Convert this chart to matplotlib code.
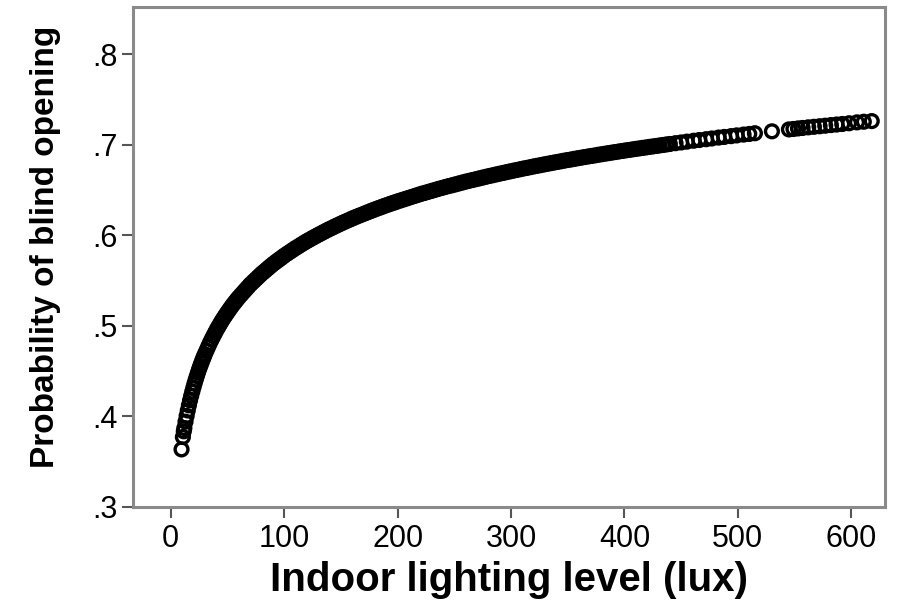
import matplotlib
matplotlib.use("Agg")
import matplotlib.pyplot as plt

# indoor lighting level (lux) and predicted probability of blind opening
lux = [
    9.5, 10.7, 11.5, 12, 13, 14, 15, 16, 17, 18, 19, 20, 21, 22, 23, 24, 25, 26, 27, 28, 29, 30,
    31.5, 33, 34.5, 36, 37.5, 39, 40.5, 42, 43.5, 45, 46.5, 48, 49.5, 51, 52.5, 54, 55.5, 57, 58.5, 60,
    62, 64, 66, 68, 70, 72, 74, 76, 78, 80, 82, 84, 86, 88, 90, 92, 94, 96, 98, 100,
    102.5, 105, 107.5, 110, 112.5, 115, 117.5, 120, 122.5, 125, 127.5, 130, 132.5, 135, 137.5, 140,
    142.5, 145, 147.5, 150, 152.5, 155, 157.5, 160, 162.5, 165, 167.5, 170, 172.5, 175, 177.5, 180,
    182.5, 185, 187.5, 190, 192.5, 195, 197.5, 200,
    203, 206, 209, 212, 215, 218, 221, 224, 227, 230, 233, 236, 239, 242, 245, 248, 251, 254, 257, 260,
    263, 266, 269, 272, 275, 278, 281, 284, 287, 290, 293, 296, 299, 302, 305, 308, 311, 314, 317, 320,
    323, 326, 329, 332, 335, 338, 341, 344, 347, 350, 353, 356, 359, 362, 365, 368, 371, 374, 377, 380,
    383, 386, 389, 392, 395, 398, 401, 404, 407, 410, 413, 416, 419, 422, 425, 428, 431, 434, 437, 440,
    445, 450, 455, 461, 466, 472, 477, 483, 488, 494, 499, 505, 510, 515,
    530, 545, 549, 553, 557, 562, 567, 572, 577, 582, 587, 592, 598, 605, 611, 618,
]
prob = [
    .3635, .3772, .3835, .3871, .3941, .4005, .4065, .4122, .4176, .4226, .4274, .4320, .4364, .4406,
    .4445, .4484, .4521, .4556, .4590, .4623, .4655, .4685,
    .4727, .4769, .4811, .4849, .4886, .4922, .4958, .4990, .5022, .5054, .5083, .5112, .5140, .5167,
    .5194, .5220, .5245, .5268, .5292, .5315,
    .5343, .5371, .5399, .5427, .5455, .5479, .5503, .5527, .5551, .5575, .5596, .5617, .5639, .5660,
    .5681, .5700, .5719, .5737, .5756, .5775,
    .5796, .5817, .5838, .5859, .5878, .5898, .5917, .5936, .5953, .5971, .5988, .6005, .6021, .6038,
    .6054, .6070, .6085, .6100, .6115, .6130, .6144, .6158, .6172, .6186, .6199, .6212, .6224, .6237,
    .6249, .6262, .6274, .6286, .6298, .6309, .6321, .6332, .6343, .6354, .6364, .6375,
    .6387, .6399, .6411, .6423, .6435, .6447, .6459, .6469, .6480, .6491, .6502, .6513, .6523, .6534,
    .6544, .6553, .6563, .6573, .6583, .6593,
    .6602, .6611, .6620, .6629, .6638, .6647, .6656, .6664, .6673, .6681, .6689, .6698, .6706, .6714,
    .6722, .6730, .6738, .6745, .6753, .6761,
    .6768, .6775, .6783, .6790, .6797, .6804, .6811, .6818, .6825, .6832, .6838, .6845, .6852, .6858,
    .6865, .6871, .6877, .6883, .6890, .6896,
    .6902, .6908, .6914, .6920, .6926, .6932, .6938, .6943, .6949, .6955, .6960, .6966, .6971, .6977,
    .6982, .6987, .6993, .6998, .7004, .7009,
    .7018, .7026, .7035, .7045, .7053, .7062, .7070, .7080, .7087, .7096, .7104, .7113, .7120, .7128,
    .7149, .7170, .7175, .7181, .7186, .7193, .7199, .7205, .7211, .7218, .7224, .7230, .7238, .7248,
    .7255, .7262,
]

x_ticks = [0, 100, 200, 300, 400, 500, 600]
y_ticks = [.3, .4, .5, .6, .7, .8]
y_tick_labels = [".3", ".4", ".5", ".6", ".7", ".8"]

plt.rcParams['font.family'] = ['Liberation Sans', 'DejaVu Sans']

fig = plt.figure(figsize=(8.97, 6.02), dpi=100, facecolor='white')
ax = fig.add_axes([0.148, 0.158, 0.839, 0.830])

# open circles, thick edges so the dense part reads as a solid band
ax.scatter(lux, prob, s=85, facecolors='none', edgecolors='black', linewidths=2.4, zorder=3)

ax.set_xlim(-33.5, 630)
ax.set_ylim(0.3, 0.852)
ax.set_xticks(x_ticks)
ax.set_xticklabels([str(t) for t in x_ticks])
ax.set_yticks(y_ticks)
ax.set_yticklabels(y_tick_labels)

for side in ['left', 'right', 'top', 'bottom']:
    ax.spines[side].set_color('#8a8a8a')
    ax.spines[side].set_linewidth(2.2)

ax.tick_params(axis='both', direction='out', length=8, width=1.5, color='#555555',
               labelsize=22, labelcolor='black')
ax.tick_params(axis='x', pad=4)
ax.tick_params(axis='y', pad=3)

ax.set_xlabel("Indoor lighting level (lux)", fontsize=29, fontweight='bold')
ax.set_ylabel("Probability of blind opening", fontsize=24, fontweight='bold')
ax.xaxis.set_label_coords(0.5, -0.108)
ax.yaxis.set_label_coords(-0.095, 0.52)

plt.savefig("out.png", dpi=100)
